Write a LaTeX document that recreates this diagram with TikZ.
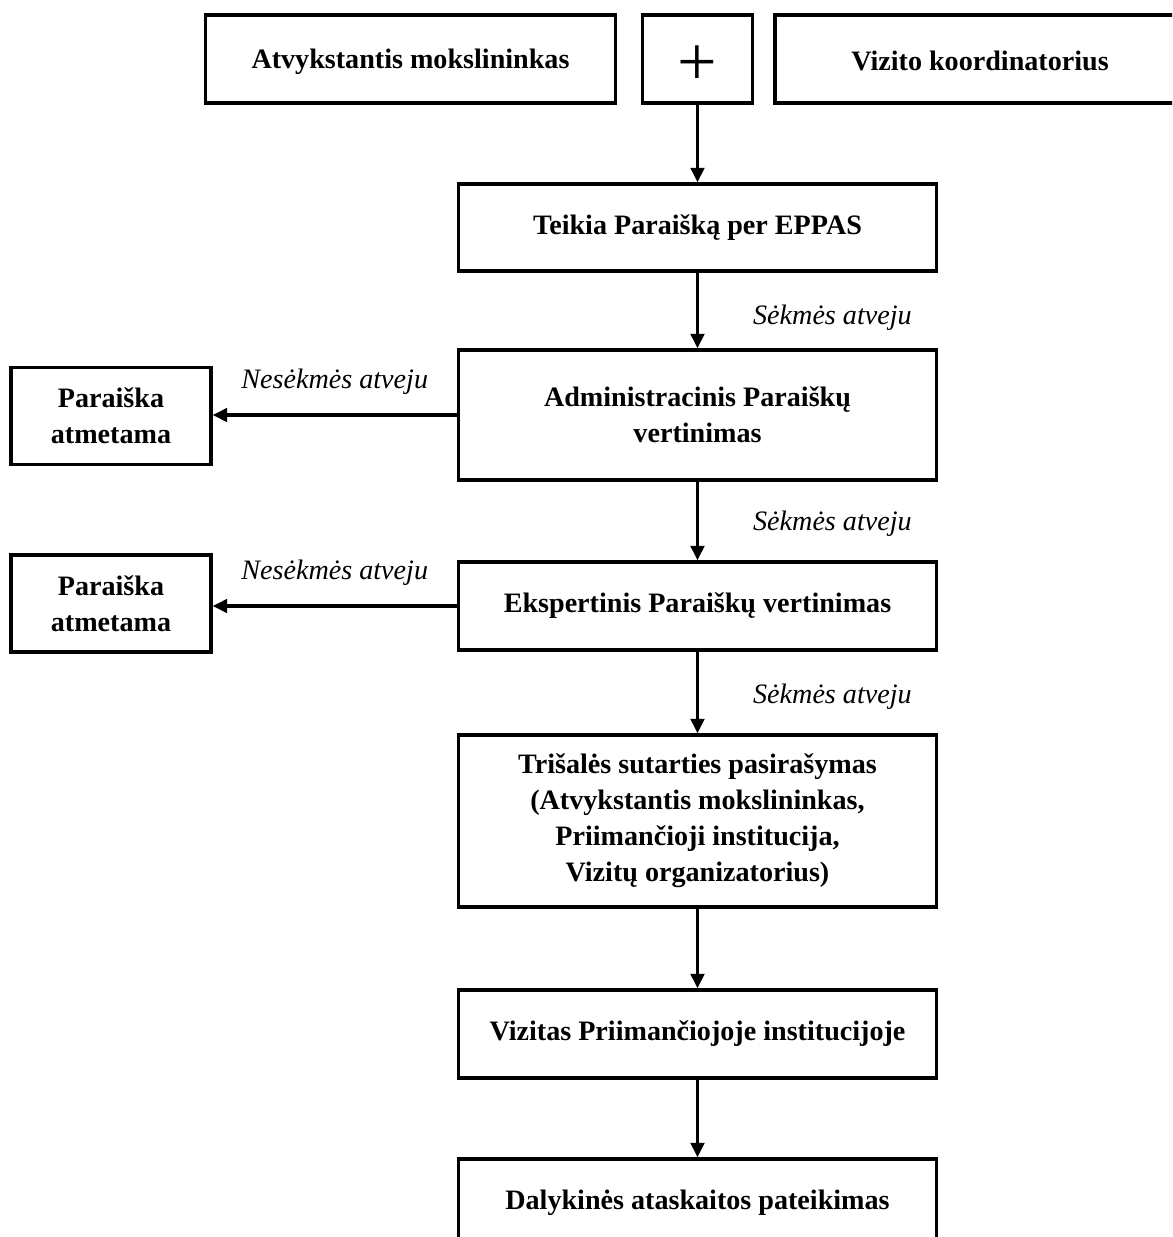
\documentclass[tikz,border=0pt]{standalone}
\usepackage{fontspec}
\setmainfont{Liberation Serif}
\usepackage{tikz}
\usetikzlibrary{arrows.meta}

\begin{document}
\begin{tikzpicture}[
        box/.style={draw, line width=1.9pt, align=center, inner sep=2pt,
            font=\fontsize{16}{20.5}\selectfont\bfseries},
        lbl/.style={inner sep=0pt, font=\fontsize{16}{20}\selectfont\itshape},
        arr/.style={line width=1.9pt, -{Triangle[length=0.29cm,width=0.27cm]}}
    ]
                \useasboundingbox (0,0) rectangle (23.44,-24.74);
                \clip (0,0) rectangle (23.44,-24.74);
                % top row
                \node [box, minimum width=8.2cm, minimum height=1.76cm] (atv) at (8.21,-1.18) {\raisebox{-1.6pt}[\height][\depth]{Atvykstantis mokslininkas}};
                \node [box, minimum width=2.2cm, minimum height=1.76cm, font=\fontsize{40}{40}\selectfont] (plus) at (13.95,-1.18) {\raisebox{-4pt}[\height][\depth]{+}};
                \node [box, minimum width=8.2cm, minimum height=1.76cm] (koord) at (19.6,-1.18) {\raisebox{-1.2pt}[\height][\depth]{Vizito koordinatorius}};
                % main column
                \node [box, minimum width=9.56cm, minimum height=1.74cm] (teikia) at (13.95,-4.55) {Teikia Paraišką per EPPAS};
                \node [box, minimum width=9.56cm, minimum height=2.6cm] (admin) at (13.95,-8.3) {Administracinis Paraiškų\\vertinimas};
                \node [box, minimum width=9.56cm, minimum height=1.76cm] (eksp) at (13.95,-12.12) {Ekspertinis Paraiškų vertinimas};
                \node [box, minimum width=9.56cm, minimum height=3.44cm] (sutartis) at (13.95,-16.42) {Trišalės sutarties pasirašymas\\(Atvykstantis mokslininkas,\\Priimančioji institucija,\\Vizitų organizatorius)};
                \node [box, minimum width=9.56cm, minimum height=1.76cm] (vizitas) at (13.95,-20.68) {Vizitas Priimančiojoje institucijoje};
                \node [box, minimum width=9.56cm, minimum height=1.76cm] (ataskaita) at (13.95,-24.06) {Dalykinės ataskaitos pateikimas};
                % rejected
                \node [box, minimum width=4cm, minimum height=1.94cm] (atmesta1) at (2.22,-8.32) {Paraiška\\atmetama};
                \node [box, minimum width=4cm, minimum height=1.94cm] (atmesta2) at (2.22,-12.07) {Paraiška\\atmetama};
                % arrows
                \draw [arr] (plus) -- (teikia);
                \draw [arr] (teikia) -- node [lbl, right, xshift=1.08cm, yshift=-0.14cm] {Sėkmės atveju} (admin);
                \draw [arr] (admin) -- node [lbl, right, xshift=1.08cm, yshift=-0.06cm] {Sėkmės atveju} (eksp);
                \draw [arr] (eksp) -- node [lbl, right, xshift=1.08cm, yshift=-0.08cm] {Sėkmės atveju} (sutartis);
                \draw [arr] (sutartis) -- (vizitas);
                \draw [arr] (vizitas) -- (ataskaita);
                \draw [arr] (admin.west) -- node [lbl, above, yshift=0.38cm] {Nesėkmės atveju} (admin.west -| atmesta1.east);
                \draw [arr] (eksp.west) -- node [lbl, above, yshift=0.38cm] {Nesėkmės atveju} (eksp.west -| atmesta2.east);
\end{tikzpicture}
\end{document}
